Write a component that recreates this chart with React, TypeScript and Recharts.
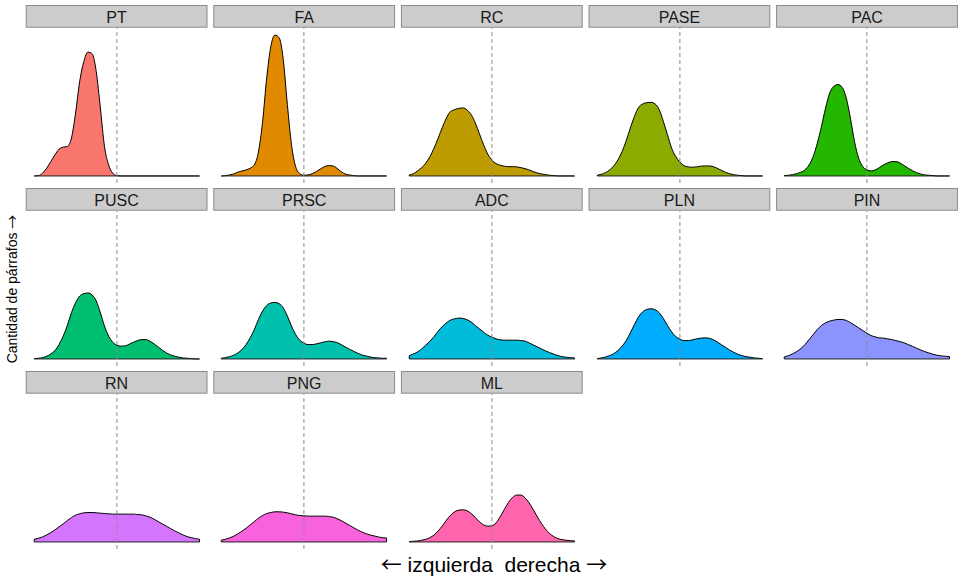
import { AreaChart, Area, XAxis, YAxis, ReferenceLine } from 'recharts';

// Position along the left/right axis (shared by every panel).
const POSITIONS = [
  -1, -0.95, -0.9, -0.85, -0.8, -0.75, -0.7, -0.65, -0.6, -0.55, -0.5,
  -0.45, -0.4, -0.35, -0.3, -0.25, -0.2, -0.15, -0.1, -0.05, 0,
  0.05, 0.1, 0.15, 0.2, 0.25, 0.3, 0.35, 0.4, 0.45, 0.5,
  0.55, 0.6, 0.65, 0.7, 0.75, 0.8, 0.85, 0.9, 0.95, 1,
];

const LABELS = ['PT', 'FA', 'RC', 'PASE', 'PAC', 'PUSC', 'PRSC', 'ADC', 'PLN', 'PIN', 'RN', 'PNG', 'ML'];

// Density per section (arbitrary units).
const PT = [0, 0.3, 2.7, 7.7, 14.3, 21, 26.7, 28.7, 29.3, 37.7, 62.7, 94.3, 114, 123.3, 121.7, 104, 67.7, 29.3, 11, 2.7, 0.3, 0, 0, 0, 0, 0, 0, 0, 0, 0, 0, 0, 0, 0, 0, 0, 0, 0, 0, 0, 0];
const FA = [0, 0.3, 1, 2, 3.7, 5, 6, 7.7, 11, 24, 54, 97.7, 129, 140.3, 137.7, 116, 71, 31, 9.3, 2.3, 0.7, 1, 2.3, 4.3, 7, 9.3, 10.3, 10, 7.7, 4.3, 2, 1, 0.3, 0, 0, 0, 0, 0, 0, 0, 0];
const RC = [1, 2.3, 5, 8.3, 12.7, 19.3, 27.7, 37.7, 48.3, 57.7, 64.3, 66, 67.3, 67.7, 65.7, 61, 52.7, 41.7, 31, 21.7, 15.7, 12.3, 10.7, 9.7, 9.3, 9.3, 9, 8.3, 7.3, 6, 4.3, 3, 2, 1.3, 0.7, 0.3, 0, 0, 0, 0, 0];
const PASE = [0.7, 1.7, 3.3, 6, 10, 16, 24.3, 35, 47.7, 59.3, 68.3, 71.7, 73, 73.3, 71.7, 66, 54.3, 41, 27.7, 19.3, 13.7, 10.3, 9, 8.7, 9, 9.7, 10, 10, 9.3, 7.7, 5.7, 3.7, 2.3, 1.3, 0.7, 0.3, 0, 0, 0, 0, 0];
const PAC = [0.3, 0.7, 1.3, 2.3, 3.7, 6, 11, 19.3, 32.7, 49.3, 67.7, 82.7, 89.3, 91, 88.3, 77.7, 57.7, 34.3, 17.7, 9.3, 6, 5, 6, 8.3, 11, 13, 14.3, 14.3, 13, 10.3, 7.7, 5.3, 3.3, 2, 1, 0.7, 0.3, 0, 0, 0, 0];
const PUSC = [0.3, 0.7, 1.3, 2.7, 5, 8.3, 14.3, 22.7, 33.3, 46, 56, 62.7, 65, 65.7, 63.7, 57.7, 46, 32.7, 22.7, 16.7, 13.7, 12.7, 13, 14.7, 16.7, 18.3, 19.3, 19.3, 17.7, 15, 12, 8.7, 6, 4, 2.7, 1.7, 1, 0.7, 0.3, 0, 0];
const PRSC = [0.7, 1.3, 2.3, 3.7, 6, 9.3, 14.3, 21, 29.3, 39.3, 47.7, 53.3, 55.7, 56.3, 55, 51, 42.7, 32.7, 24.3, 18.7, 15.7, 14.3, 14.3, 15, 16, 17, 17.7, 17.3, 16.3, 14.3, 12, 9.7, 7.7, 5.7, 4, 3, 2, 1.3, 1, 0.7, 0.7];
const ADC = [3.3, 5, 7, 10, 13.7, 17.7, 22.3, 27.7, 32.3, 36, 38.7, 40, 40.7, 40.3, 39, 36.7, 33.3, 30, 26.7, 23.7, 21.7, 20, 19, 18.7, 18.7, 18.7, 18.7, 18.3, 17.7, 16, 14, 12, 10, 8, 6.3, 4.7, 3.3, 2.3, 1.7, 1.3, 1];
const PLN = [0.3, 1, 2, 3.3, 5.3, 8.3, 12.7, 18.3, 26, 34.3, 42, 47, 49.3, 50, 49, 46, 40.3, 33.3, 27, 22.3, 19.7, 18.3, 18.3, 19, 20, 20.7, 21, 20.7, 19.3, 17, 14.3, 11.7, 9, 6.7, 4.7, 3.3, 2.3, 1.7, 1, 0.7, 0.3];
const PIN = [2, 3.3, 5, 7.3, 10.3, 14.3, 19.3, 24.3, 29.3, 33.3, 36, 37.7, 38.7, 39.3, 39.3, 38.3, 36.3, 33.7, 31, 28.3, 25.7, 23.3, 22, 21, 20.7, 20, 19.3, 18.3, 17.3, 16, 14.3, 12.7, 10.7, 9, 7.3, 6, 4.7, 3.7, 3, 2.7, 2.3];
const RN = [2.7, 3.7, 5, 7, 9.3, 12, 15, 18, 21.3, 24.3, 26.7, 28, 29, 29.3, 29.3, 29, 28.7, 28.3, 28, 27.7, 27.7, 27.7, 27.7, 27.7, 27.7, 27.3, 27, 26, 24.7, 22.7, 20.3, 18, 15.7, 13.3, 11, 9, 7, 5.3, 4.3, 3.3, 2.7];
const PNG = [1.7, 2.7, 4, 5.7, 8, 10.7, 13.7, 17, 20.3, 23.7, 26.3, 28.3, 29.3, 30, 30, 29.7, 29, 28, 27, 26.3, 26, 25.7, 25.7, 25.7, 25.7, 25.7, 25.3, 24.7, 23.3, 21.3, 19, 16.7, 14.3, 12, 10, 8.3, 7, 6, 5, 4.3, 4];
const ML = [0.3, 0.7, 1, 1.7, 2.7, 4.3, 7, 11, 16, 21.7, 26.7, 30, 31.7, 32, 31, 28.3, 24.3, 20, 17, 15.7, 16, 19, 25, 32.3, 39.3, 44.3, 46.7, 46.7, 44, 39, 32.3, 25, 18.3, 12.7, 8.3, 5.3, 3.3, 2.3, 1.7, 1.3, 1];

const DENSITIES = [PT, FA, RC, PASE, PAC, PUSC, PRSC, ADC, PLN, PIN, RN, PNG, ML];

// ggplot default hue palette for 13 groups
const COLORS = [
  '#F8766D', '#E18A00', '#BE9C00', '#8CAB00', '#24B700', '#00BE70', '#00C1AB',
  '#00BBDA', '#00ACFC', '#8B93FF', '#D575FE', '#F962DD', '#FF65AC',
];

const FONT = '"Liberation Sans", Arial, Helvetica, sans-serif';
const ARROW_FONT = '"Noto Sans CJK JP", "DejaVu Sans", sans-serif';
const W = 964;
const H = 581;
const NCOL = 5;
const COL_LEFT = 25.7;
const COL_STEP = 187.6;
const PANEL_W = 181.8;
const ROW_TOP = 5;
const ROW_STEP = 183;
const STRIP_H = 22.7;
const PLOT_H = 155;

const yMax = Math.max(...DENSITIES.map((d) => Math.max(...d)));
const Y_DOMAIN = [-0.05 * yMax, 1.05 * yMax];

function Panel({ index }: { index: number }) {
  const values = DENSITIES[index];
  const data = POSITIONS.map((x, i) => ({ x, y: values[i] }));
  const left = COL_LEFT + (index % NCOL) * COL_STEP;
  const top = ROW_TOP + Math.floor(index / NCOL) * ROW_STEP + STRIP_H;
  const last = values[values.length - 1];

  return (
    <div style={{ position: 'absolute', left, top, width: PANEL_W, height: PLOT_H }}>
      <AreaChart width={PANEL_W} height={PLOT_H} data={data} margin={{ top: 0, right: 0, bottom: 0, left: 0 }}>
        <XAxis type="number" dataKey="x" domain={[-1.1, 1.1]} hide />
        <YAxis type="number" domain={Y_DOMAIN} hide />
        <Area
          type="monotone"
          dataKey="y"
          baseValue={0}
          fill={COLORS[index]}
          fillOpacity={1}
          stroke="#000"
          strokeWidth={1}
          dot={false}
          activeDot={false}
          isAnimationActive={false}
        />
        <ReferenceLine segment={[{ x: -1, y: 0 }, { x: 1, y: 0 }]} stroke="#222" strokeWidth={1} />
        <ReferenceLine segment={[{ x: -1, y: 0 }, { x: -1, y: values[0] }]} stroke="#000" strokeWidth={1} />
        <ReferenceLine segment={[{ x: 1, y: 0 }, { x: 1, y: last }]} stroke="#000" strokeWidth={1} />
        <ReferenceLine x={0} stroke="#8c8c8c" strokeWidth={1} strokeDasharray="4 3" />
      </AreaChart>
    </div>
  );
}

export default function App() {
  return (
    <div style={{ position: 'absolute', left: 0, top: 0, width: W, height: H, background: '#fff', fontFamily: FONT }}>
      <svg width={W} height={H} style={{ position: 'absolute', left: 0, top: 0 }}>
        {LABELS.map((label, i) => {
          const x = COL_LEFT + (i % NCOL) * COL_STEP;
          const y = ROW_TOP + Math.floor(i / NCOL) * ROW_STEP;
          return (
            <g key={label}>
              <rect x={x + 0.5} y={y + 0.5} width={PANEL_W - 1} height={STRIP_H - 1} fill="#cccccc" stroke="#8a8a8a" strokeWidth={1} />
              <text x={x + PANEL_W / 2} y={y + 18.2} textAnchor="middle" fontSize={16} fill="#1a1a1a" fontFamily={FONT}>
                {label}
              </text>
            </g>
          );
        })}
        <text x={494} y={572} textAnchor="middle" fontSize={21} fill="#000" fontFamily={FONT} style={{ whiteSpace: 'pre' }}>
          <tspan fontFamily={ARROW_FONT}>←</tspan>
          {' izquierda  derecha '}
          <tspan fontFamily={ARROW_FONT}>→</tspan>
        </text>
        <text transform="translate(16.5,289) rotate(-90)" textAnchor="middle" fontSize={14} fill="#000" fontFamily={FONT} style={{ whiteSpace: 'pre' }}>
          {'Cantidad de párrafos '}
          <tspan fontFamily={ARROW_FONT}>→</tspan>
        </text>
      </svg>
      {LABELS.map((label, i) => (
        <Panel key={label} index={i} />
      ))}
    </div>
  );
}
